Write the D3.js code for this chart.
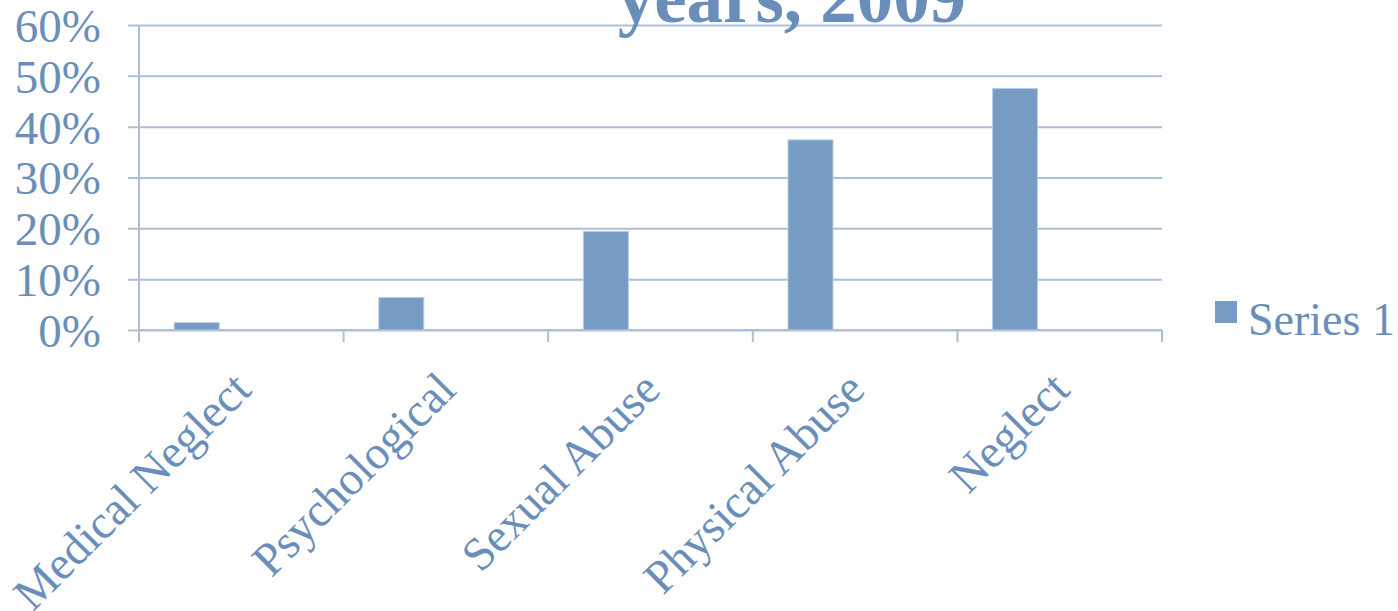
<!DOCTYPE html>
<html><head><meta charset="utf-8">
<script src="https://cdn.jsdelivr.net/npm/d3@7"></script>
<style>body{margin:0;background:#fff;}svg{display:block;}</style>
</head><body>
<svg id="c" width="1398" height="611"></svg>
<script>
const categories = ["Medical Neglect","Psychological","Sexual Abuse","Physical Abuse","Neglect"];
const values = [1.45, 6.4, 19.4, 37.4, 47.5];
const yTicks = [0,10,20,30,40,50,60];
const seriesName = "Series 1";
const titleText = "years, 2009";

(function(){
const svg = d3.select("#c");
const textColor = "#6a8eba", barColor = "#779cc4", gridColor = "#adbfd7";
const font = "'Liberation Serif','Times New Roman',serif";
const mLeft = 139, mRight = 1162, mTop = 25, mBottom = 330;

const x = d3.scaleBand().domain(categories).range([mLeft, mRight]).paddingInner(0).paddingOuter(0);
const y = d3.scaleLinear().domain([0,60]).range([mBottom, mTop]);

// gridlines + y ticks
const yAxis = d3.axisLeft(y).tickValues(yTicks).tickSize(-(mRight-mLeft)).tickSizeOuter(0).tickPadding(38).tickFormat(d => d + "%");
const gy = svg.append("g").attr("transform", `translate(${mLeft},0)`).call(yAxis);
gy.select(".domain").remove();
gy.selectAll(".tick line").attr("x1", -11).attr("stroke", gridColor).attr("stroke-width", 2);
gy.selectAll(".tick text").attr("fill", textColor).style("font-family", font).style("font-size", "47px").attr("dy", "0.35em");

// y axis line
svg.append("line").attr("x1", mLeft).attr("x2", mLeft).attr("y1", mTop).attr("y2", mBottom + 12).attr("stroke", gridColor).attr("stroke-width", 2);

// x axis
svg.append("line").attr("x1", mLeft).attr("x2", mRight).attr("y1", mBottom).attr("y2", mBottom).attr("stroke", gridColor).attr("stroke-width", 2);
const boundaries = categories.map(c => x(c)).concat([mRight]);
svg.append("g").selectAll("line").data(boundaries).join("line")
  .attr("x1", d => d).attr("x2", d => d).attr("y1", mBottom).attr("y2", mBottom + 12)
  .attr("stroke", gridColor).attr("stroke-width", 2);

// bars (first series slot of a grouped layout)
const bw = x.bandwidth();
svg.append("g").selectAll("rect").data(values).join("rect")
  .attr("x", (d,i) => x(categories[i]) + bw * 0.172)
  .attr("width", bw * 0.22)
  .attr("y", d => y(d))
  .attr("height", d => y(0) - y(d))
  .attr("fill", barColor).attr("stroke", "#b9cde5").attr("stroke-width", 1);

// category labels
svg.append("g").selectAll("text").data(categories).join("text")
  .attr("transform", d => `translate(${x(d) + bw/2 + 12},392) rotate(-45)`)
  .attr("text-anchor", "end")
  .attr("fill", textColor).style("font-family", font).style("font-size", "47px")
  .text(d => d);

// legend
svg.append("rect").attr("x", 1215).attr("y", 301).attr("width", 22).attr("height", 22).attr("fill", barColor);
svg.append("text").attr("x", 1248).attr("y", 335).attr("fill", textColor)
  .style("font-family", font).style("font-size", "46px").text(seriesName);

// title (only last line visible)
svg.append("text").attr("x", 792).attr("y", 22).attr("text-anchor", "middle")
  .attr("fill", "#6a8eba").style("font-family", font).style("font-weight", "bold").style("font-size", "73px")
  .text(titleText);
})();
</script>
</body></html>
